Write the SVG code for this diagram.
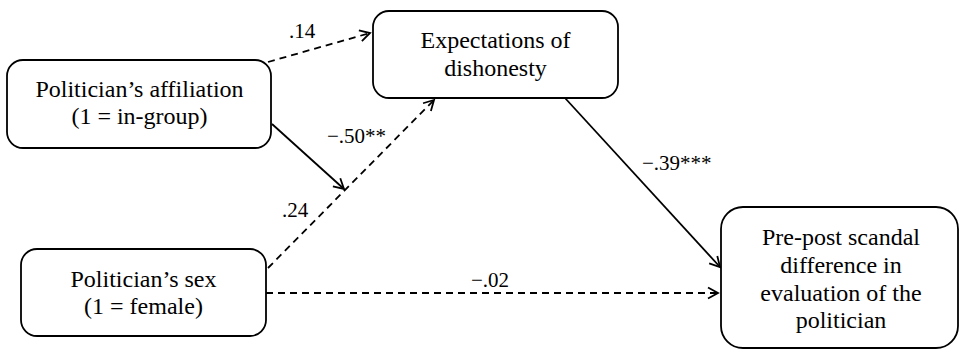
<svg xmlns="http://www.w3.org/2000/svg" width="960" height="350" viewBox="0 0 960 350">
<style>
.box{fill:#fff;stroke:#000;stroke-width:1.8}
.t{font-family:"Liberation Serif","FreeSerif","Times New Roman",serif;font-size:24px;fill:#000;text-anchor:middle}
.lbl{font-family:"Liberation Serif","FreeSerif","Times New Roman",serif;font-size:21px;fill:#000}
.solid{fill:none;stroke:#000;stroke-width:1.8}
.dash{fill:none;stroke:#000;stroke-width:1.8;stroke-dasharray:7 5}
</style>
<defs>
<marker id="arr" viewBox="0 0 14 14" refX="12" refY="7" markerWidth="14" markerHeight="14" markerUnits="userSpaceOnUse" orient="auto">
<path d="M2,1.5 L12,7 L2,12.5" fill="none" stroke="#000" stroke-width="1.8"/>
</marker>
</defs>
<rect width="960" height="350" fill="#fff"/>
<g id="connectors">
<path class="dash" d="M268,62 L370,33" marker-end="url(#arr)"/>
<path class="solid" d="M272,124 L344,189" marker-end="url(#arr)"/>
<path class="dash" d="M268,268 L434,100" marker-end="url(#arr)"/>
<path class="solid" d="M565,98 L720,267" marker-end="url(#arr)"/>
<path class="dash" d="M266,293 L718,293" marker-end="url(#arr)"/>
<text class="lbl" x="289" y="38">.14</text>
<text class="lbl" x="327" y="143">−.50**</text>
<text class="lbl" x="282" y="217">.24</text>
<text class="lbl" x="642" y="170">−.39***</text>
<text class="lbl" x="471" y="287">−.02</text>
</g>
<g id="affiliation">
<rect class="box" x="7" y="60" width="264" height="88" rx="16"/>
<text class="t" x="139.5" y="97">Politician’s affiliation</text>
<text class="t" x="139.5" y="124">(1 = in-group)</text>
</g>
<g id="expectations">
<rect class="box" x="373" y="11" width="245" height="87" rx="16"/>
<text class="t" x="495.5" y="48">Expectations of</text>
<text class="t" x="495.5" y="76">dishonesty</text>
</g>
<g id="sex">
<rect class="box" x="21" y="249" width="245" height="87" rx="16"/>
<text class="t" x="143.5" y="287">Politician’s sex</text>
<text class="t" x="143.5" y="314">(1 = female)</text>
</g>
<g id="outcome">
<rect class="box" x="721" y="207" width="237" height="141" rx="22"/>
<text class="t" x="841" y="245">Pre-post scandal</text>
<text class="t" x="841" y="273">difference in</text>
<text class="t" x="841" y="301">evaluation of the</text>
<text class="t" x="841" y="328">politician</text>
</g>
</svg>
